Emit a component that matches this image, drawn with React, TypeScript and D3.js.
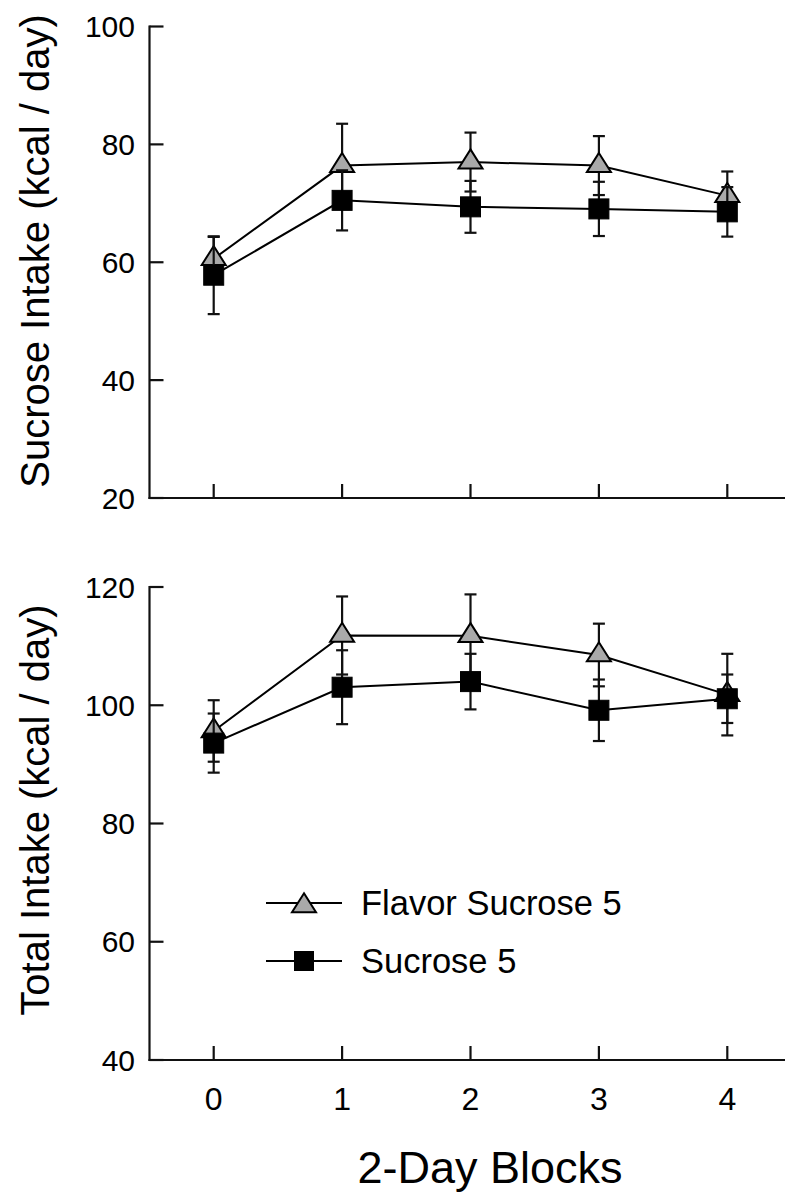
import React from "react";
import * as d3 from "d3";

const blocks = [0, 1, 2, 3, 4];
const xTicks = [0, 1, 2, 3, 4];

const flavorSucrose = [60.6, 76.4, 77.0, 76.4, 71.3];
const flavorSucroseSE = [3.7, 7.1, 5.0, 5.0, 4.1];
const sucroseSucrose = [57.8, 70.5, 69.4, 69.05, 68.55];
const sucroseSucroseSE = [6.6, 5.1, 4.4, 4.6, 4.2];

const flavorTotal = [95.65, 111.8, 111.75, 108.5, 101.8];
const flavorTotalSE = [5.2, 6.6, 7.0, 5.3, 6.9];
const sucroseTotal = [93.6, 103.05, 104.0, 99.15, 101.1];
const sucroseTotalSE = [5.0, 6.25, 4.7, 5.2, 4.1];

const topTicks = [20, 40, 60, 80, 100];
const bottomTicks = [40, 60, 80, 100, 120];

const seriesNames = ["Flavor Sucrose 5", "Sucrose 5"];

const FONT = "'Liberation Sans', Arial, Helvetica, sans-serif";
const W = 785;
const H = 1198;

const x = d3.scaleLinear().domain([-0.5, 4.5]).range([149.5, 791.5]);

const triPath = (cx: number, cy: number) => {
  const h = 19;
  const half = 12;
  return `M${cx},${cy - (2 * h) / 3}L${cx + half},${cy + h / 3}L${cx - half},${cy + h / 3}Z`;
};

function Series({
  values,
  se,
  y,
  kind,
}: {
  values: number[];
  se: number[];
  y: d3.ScaleLinear<number, number>;
  kind: "tri" | "sq";
}) {
  const line = d3
    .line<number>()
    .x((_, i) => x(blocks[i]))
    .y((d) => y(d));
  const cap = 6;
  return (
    <g>
      <path d={line(values) || ""} fill="none" stroke="#000" strokeWidth={2} />
      {values.map((v, i) => {
        const cx = x(blocks[i]);
        const y1 = y(v + se[i]);
        const y2 = y(v - se[i]);
        return (
          <g key={"e" + i} stroke="#111" strokeWidth={2.2}>
            <line x1={cx} x2={cx} y1={y1} y2={y2} />
            <line x1={cx - cap} x2={cx + cap} y1={y1} y2={y1} />
            <line x1={cx - cap} x2={cx + cap} y1={y2} y2={y2} />
          </g>
        );
      })}
      {values.map((v, i) => {
        const cx = x(blocks[i]);
        const cy = y(v);
        return kind === "tri" ? (
          <path key={"m" + i} d={triPath(cx, cy)} fill="#a9a9a9" stroke="#000" strokeWidth={2} strokeLinejoin="miter" />
        ) : (
          <rect key={"m" + i} x={cx - 10} y={cy - 10} width={20} height={20} fill="#000" stroke="#000" strokeWidth={1} />
        );
      })}
    </g>
  );
}

function Panel({
  y,
  ticks,
  title,
  titleY,
  showXLabels,
  flavor,
  flavorSE,
  sucrose,
  sucroseSE,
}: {
  y: d3.ScaleLinear<number, number>;
  ticks: number[];
  title: string;
  titleY: number;
  showXLabels: boolean;
  flavor: number[];
  flavorSE: number[];
  sucrose: number[];
  sucroseSE: number[];
}) {
  const [y0, y1] = y.range();
  const x0 = x.range()[0];
  return (
    <g>
      <line x1={x0} x2={x0} y1={y0 + 1} y2={y1 - 1} stroke="#111" strokeWidth={2.2} />
      {ticks.map((t) => (
        <g key={t}>
          <line x1={x0} x2={x0 + 14} y1={y(t)} y2={y(t)} stroke="#111" strokeWidth={2.2} />
          <text
            x={135}
            y={y(t)}
            textAnchor="end"
            dominantBaseline="central"
            fontFamily={FONT}
            fontSize={30}
            fill="#000"
          >
            {t}
          </text>
        </g>
      ))}
      <line x1={x0 - 1} x2={W} y1={y0} y2={y0} stroke="#111" strokeWidth={2.2} />
      {xTicks.map((t) => (
        <g key={t}>
          <line x1={x(t)} x2={x(t)} y1={y0} y2={y0 - 14} stroke="#111" strokeWidth={2.2} />
          {showXLabels && (
            <text x={x(t)} y={y0 + 50} textAnchor="middle" fontFamily={FONT} fontSize={32} fill="#000">
              {t}
            </text>
          )}
        </g>
      ))}
      <text
        transform={`translate(49,${titleY}) rotate(-90)`}
        textAnchor="middle"
        fontFamily={FONT}
        fontSize={40}
        fill="#000"
      >
        {title}
      </text>
      <Series values={flavor} se={flavorSE} y={y} kind="tri" />
      <Series values={sucrose} se={sucroseSE} y={y} kind="sq" />
    </g>
  );
}

export default function App() {
  const yTop = d3.scaleLinear().domain([20, 100]).range([498, 26.5]);
  const yBottom = d3.scaleLinear().domain([40, 120]).range([1060, 587]);
  const legendRows = [903, 961];
  return (
    <svg
      width={W}
      height={H}
      viewBox={`0 0 ${W} ${H}`}
      style={{ position: "absolute", left: 0, top: 0, background: "#fff" }}
    >
      <rect x={0} y={0} width={W} height={H} fill="#fff" />
      <Panel
        y={yTop}
        ticks={topTicks}
        title="Sucrose Intake (kcal / day)"
        titleY={251}
        showXLabels={false}
        flavor={flavorSucrose}
        flavorSE={flavorSucroseSE}
        sucrose={sucroseSucrose}
        sucroseSE={sucroseSucroseSE}
      />
      <Panel
        y={yBottom}
        ticks={bottomTicks}
        title="Total Intake (kcal / day)"
        titleY={810}
        showXLabels={true}
        flavor={flavorTotal}
        flavorSE={flavorTotalSE}
        sucrose={sucroseTotal}
        sucroseSE={sucroseTotalSE}
      />
      <text x={490} y={1183} textAnchor="middle" fontFamily={FONT} fontSize={45} fill="#000">
        2-Day Blocks
      </text>
      {seriesNames.map((name, i) => {
        const ly = legendRows[i];
        return (
          <g key={name}>
            <line x1={266} x2={342} y1={ly} y2={ly} stroke="#000" strokeWidth={2} />
            {i === 0 ? (
              <path d={triPath(304, ly + 3)} fill="#a9a9a9" stroke="#000" strokeWidth={2} />
            ) : (
              <rect x={294} y={ly - 10} width={20} height={20} fill="#000" />
            )}
            <text x={361} y={ly} dominantBaseline="central" fontFamily={FONT} fontSize={34.5} fill="#000">
              {name}
            </text>
          </g>
        );
      })}
    </svg>
  );
}
